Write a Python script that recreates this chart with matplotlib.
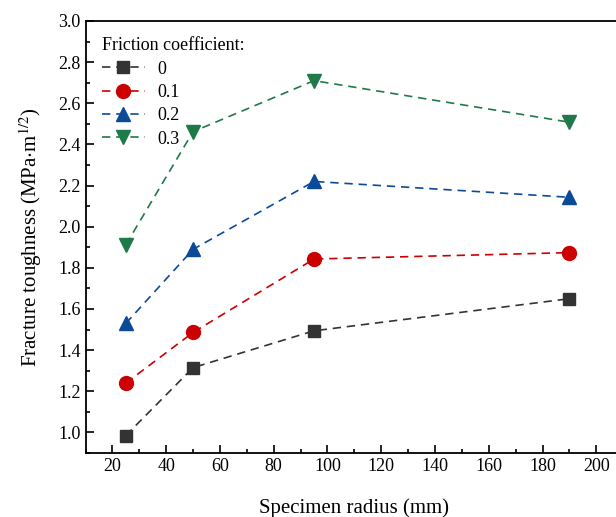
import matplotlib.pyplot as plt
from matplotlib.ticker import MultipleLocator

# specimen radius (mm)
radius = [25, 50, 95, 190]

# fracture toughness for each friction coefficient
kic_0 = [0.985, 1.315, 1.494, 1.650]
kic_01 = [1.240, 1.486, 1.843, 1.874]
kic_02 = [1.530, 1.890, 2.220, 2.143]
kic_03 = [1.912, 2.462, 2.710, 2.508]

labels = ['0', '0.1', '0.2', '0.3']
colors = ['#333333', '#cc0000', '#0b4a99', '#1e7a48']
markers = ['s', 'o', '^', 'v']
sizes = [8.5, 10, 10.5, 10.5]

plt.rcParams['font.family'] = 'Liberation Serif'
plt.rcParams['mathtext.fontset'] = 'stix'

fig = plt.figure(figsize=(6.16, 5.17), dpi=100)
ax = fig.add_axes([0.1388, 0.1238, 0.873, 0.8356])

for serie, lab, col, mk, ms in zip([kic_0, kic_01, kic_02, kic_03], labels, colors, markers, sizes):
    ax.plot(radius, serie, linestyle=(0, (5, 3.5)), linewidth=1.2, color=col,
            marker=mk, markersize=ms, label=lab)

ax.set_xlim(10, 210)
ax.set_ylim(0.9, 3.0)
ax.xaxis.set_major_locator(MultipleLocator(20))
ax.xaxis.set_minor_locator(MultipleLocator(10))
ax.yaxis.set_major_locator(MultipleLocator(0.2))
ax.yaxis.set_minor_locator(MultipleLocator(0.1))
ax.tick_params(which='both', direction='in', top=False, right=False, labelsize=13, width=1.2)
ax.tick_params(which='major', length=6)
ax.tick_params(which='minor', length=3)
for s in ax.spines.values():
    s.set_linewidth(1.3)

ax.set_xlabel('Specimen radius (mm)', fontsize=15, labelpad=17)
ax.set_ylabel(r'Fracture toughness (MPa$\cdot$m$^{1/2}$)', fontsize=15, labelpad=10)

leg = ax.legend(title='Friction coefficient:', loc='upper left', frameon=False,
                fontsize=13, title_fontsize=13, handlelength=2.4, borderaxespad=0.5,
                labelspacing=0.35, handletextpad=0.7)
leg._legend_box.align = 'left'

fig.savefig('out.png', dpi=100)
